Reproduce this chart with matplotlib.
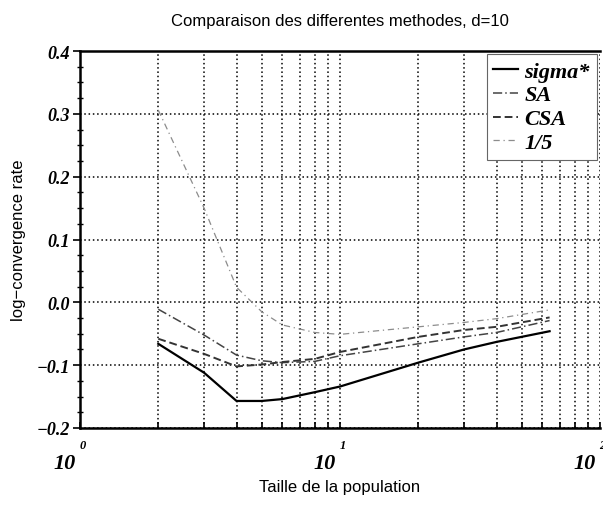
import matplotlib
matplotlib.use('Agg')
import matplotlib.pyplot as plt
import numpy as np

# taille de population et taux de convergence
pop = [2, 3, 4, 5, 6, 8, 10, 20, 30, 40, 64]
sigma_star = [-0.066, -0.112, -0.157, -0.157, -0.154, -0.143, -0.134, -0.096, -0.075, -0.063, -0.046]
sa = [-0.011, -0.052, -0.084, -0.093, -0.096, -0.094, -0.085, -0.066, -0.055, -0.048, -0.029]
csa = [-0.058, -0.082, -0.102, -0.099, -0.095, -0.090, -0.079, -0.055, -0.044, -0.039, -0.024]
one_fifth = [0.306, 0.150, 0.024, -0.015, -0.036, -0.048, -0.051, -0.039, -0.032, -0.026, -0.012]

y_ticks = [-0.2, -0.1, 0.0, 0.1, 0.2, 0.3, 0.4]
x_decades = [1, 10, 100]

serif_bi = dict(family='Liberation Serif', weight='bold', style='italic')

fig = plt.figure(figsize=(6.03, 5.06), dpi=100)
ax = fig.add_axes([0.1327, 0.1522, 0.8623, 0.745])

ax.plot(pop, sigma_star, color='black', lw=1.6, label='sigma*')
ax.plot(pop, sa, color='#444444', lw=1.1, dashes=(6, 2, 1, 2), label='SA')
ax.plot(pop, csa, color='#333333', lw=1.4, dashes=(4, 2), label='CSA')
ax.plot(pop, one_fifth, color='#8c8c8c', lw=0.9, dashes=(5, 3, 1, 3), label='1/5')

ax.set_xscale('log')
ax.set_xlim(1, 100)
ax.set_ylim(-0.2, 0.4)

# grille pointillee
ax.set_yticks(y_ticks)
ax.set_yticks(np.arange(-0.2, 0.4001, 0.025), minor=True)
ax.grid(True, which='major', axis='y', color='black', linestyle=(0, (1, 1.8)), lw=1.1)
ax.grid(True, which='both', axis='x', color='black', linestyle=(0, (1, 1.8)), lw=1.1)

ax.set_yticklabels([f'{v:.1f}'.replace('-', '\u2212') for v in y_ticks], fontdict=serif_bi, fontsize=13)
ax.tick_params(axis='y', which='major', direction='out', length=5, width=1.2, pad=2)
ax.tick_params(axis='y', which='minor', direction='inout', length=5, width=1.0)
ax.tick_params(axis='x', which='both', direction='in', length=4, width=1.2, labelbottom=False)

for s in ['left', 'bottom', 'top']:
    ax.spines[s].set_linewidth(1.8)
ax.spines['right'].set_visible(False)

# etiquettes 10^n faites a la main
for d, e in zip(x_decades, ['0', '1', '2']):
    ax.annotate('10', xy=(d, 0), xycoords=('data', 'axes fraction'), xytext=(-3, -18),
                textcoords='offset points', ha='right', va='top', fontsize=16,
                annotation_clip=False, **serif_bi)
    ax.annotate(e, xy=(d, 0), xycoords=('data', 'axes fraction'), xytext=(-0.5, -8),
                textcoords='offset points', ha='left', va='top', fontsize=9,
                annotation_clip=False, **serif_bi)

ax.set_title('Comparaison des differentes methodes, d=10', fontsize=12,
             family='Liberation Sans', pad=19)
ax.set_xlabel('Taille de la population', fontsize=12, family='Liberation Sans', labelpad=37)
ax.set_ylabel('log\u2212convergence rate', fontsize=12, family='Liberation Sans', labelpad=8)

leg = ax.legend(loc='upper right', prop=dict(size=16, **serif_bi), handlelength=1.1,
                handletextpad=0.3, labelspacing=0.15, borderpad=0.3, fancybox=False,
                framealpha=1, edgecolor='#666666', borderaxespad=0.15)
leg.get_frame().set_linewidth(0.8)

plt.savefig('out.png', dpi=100)
